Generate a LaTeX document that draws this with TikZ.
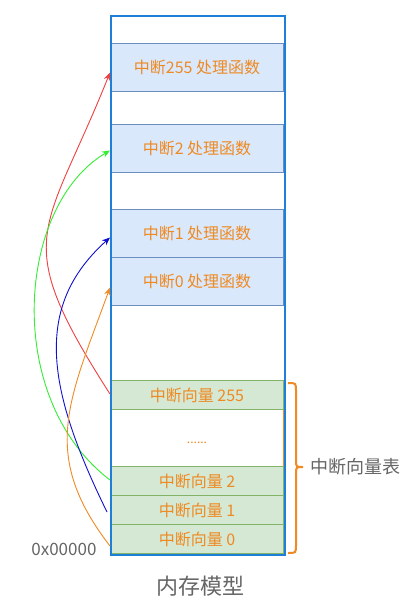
\documentclass[tikz,border=0pt]{standalone}
\usepackage{fontspec}
\setmainfont{Noto Sans CJK SC}
\usetikzlibrary{arrows.meta}
\definecolor{outerblue}{HTML}{1E7FD8}
\definecolor{bfill}{HTML}{DAE8FC}
\definecolor{bline}{HTML}{6C8EBF}
\definecolor{gfill}{HTML}{D5E8D4}
\definecolor{gline}{HTML}{82B366}
\definecolor{otext}{HTML}{EE8A22}
\definecolor{obrace}{HTML}{F08A24}
\definecolor{graytext}{HTML}{666666}
\definecolor{cred}{HTML}{F04040}
\definecolor{cgreen}{HTML}{33EE33}
\definecolor{cblue}{HTML}{1010CC}
\definecolor{corange}{HTML}{F08A24}
\tikzset{
  cell/.style={draw, line width=1pt, minimum width=173pt, inner sep=0pt, anchor=north west,
    text=otext, font=\fontsize{16}{18}\selectfont},
  hbox/.style={cell, fill=bfill, draw=bline, minimum height=48pt},
  vbox/.style={cell, fill=gfill, draw=gline, minimum height=29pt},
  link/.style={line width=0.9pt, -{Stealth[length=8pt,width=6.5pt]}},
}
\begin{document}
\begin{tikzpicture}[x=1pt,y=-1pt]
\useasboundingbox (0,0) rectangle (418,616);
\fill[white] (0,0) rectangle (418,616);
% handler boxes
\node[hbox] (h255) at (110,43) {中断255 处理函数};
\node[hbox] (h2) at (110,124) {中断2 处理函数};
\node[hbox] (h1) at (110,209) {中断1 处理函数};
\node[hbox] (h0) at (110,257) {中断0 处理函数};
% vector table
\node[cell, draw=obrace, fill=white, minimum height=57pt] (vdots) at (110,409) {\raisebox{-5pt}[0pt][0pt]{\fontsize{12}{12}\selectfont ......}};
\node[vbox] (v255) at (110,380) {中断向量 255};
\node[vbox] (v2) at (110,466) {中断向量 2};
\node[vbox] (v1) at (110,495) {中断向量 1};
\node[vbox] (v0) at (110,524) {中断向量 0};
% outer memory box
\node[draw=outerblue, line width=2pt, minimum width=174pt, minimum height=539pt, anchor=north west, inner sep=0pt] (mem) at (110,15) {};
% brace
\draw[obrace, line width=2pt] (288,383) .. controls (296,383) .. (296,391) -- (296,460)
  .. controls (296,467) .. (303,467) .. controls (296,467) .. (296,474) -- (296,545)
  .. controls (296,553) .. (288,553);
\node[anchor=west, text=graytext, font=\fontsize{18}{20}\selectfont] (vtab) at (307,467) {中断向量表};
\node[anchor=east, text=graytext, font=\fontsize{17}{19}\selectfont] (addr) at (100,549) {0x00000};
\node[text=graytext, font=\fontsize{22}{24}\selectfont] (title) at (200,586) {内存模型};
% arrows
\draw[link, cred] ([yshift=1pt]v255.west) .. controls (8,235) and (44.5,236.6) .. ([yshift=-5pt]h255.west);
\draw[link, cgreen] ([yshift=1pt]v2.west) .. controls (2.4,397.8) and (17,205) .. ([yshift=-2pt]h2.west);
\draw[link, cblue] ([xshift=-3pt,yshift=-2pt]v1.west) .. controls (47.2,389.8) and (32.4,307.2) .. ([yshift=-4pt]h1.west);
\draw[link, corange] ([yshift=-7pt]v0.west) .. controls (39.4,454.5) and (68.7,401) .. ([yshift=-6pt]h0.west);
\end{tikzpicture}
\end{document}
